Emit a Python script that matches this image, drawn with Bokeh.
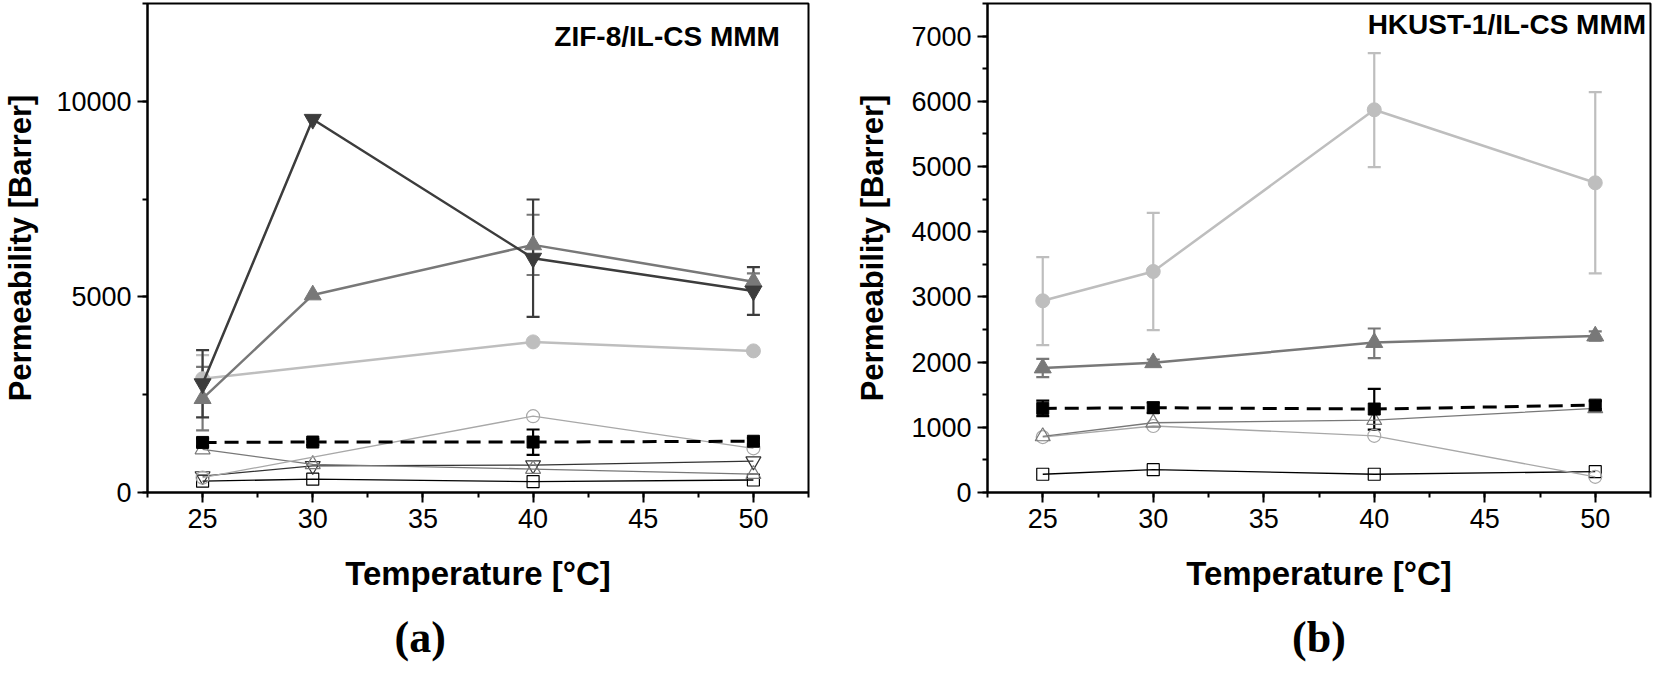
from bokeh.plotting import figure
from bokeh.models import (Whisker, TeeHead, ColumnDataSource, SingleIntervalTicker,
                          Title, Range1d, Label)
from bokeh.layouts import row
from bokeh.embed import file_html
from bokeh.resources import INLINE

# ---------------- data ----------------
temps = [25, 30, 40, 50]
temps_no30 = [25, 40, 50]

# Panel (a): ZIF-8/IL-CS MMM
a_dark_down = [2780, 9540, 5990, 5150]
a_dark_down_lo = [1920, None, 4490, 4540]
a_dark_down_hi = [3640, None, 7490, 5760]
a_gray_up = [2400, 5050, 6330, 5390]
a_gray_up_lo = [1590, None, 5560, 5180]
a_gray_up_hi = [3210, None, 7100, 5600]
a_light_circle = [2910, 3850, 3620]
a_light_circle_lo = [2310, None, None]
a_light_circle_hi = [3510, None, None]
a_open_circle = [380, 1950, 1130]
a_dash_square = [1280, 1290, 1290, 1310]
a_dash_square_lo = [1180, 1210, 960, 1230]
a_dash_square_hi = [1380, 1370, 1610, 1390]
a_open_up = [1100, 720, 600, 470]
a_open_down = [420, 680, 700, 800]
a_open_square = [290, 340, 280, 320]

# Panel (b): HKUST-1/IL-CS MMM
b_light_circle = [2940, 3390, 5870, 4750]
b_light_circle_lo = [2260, 2490, 4990, 3360]
b_light_circle_hi = [3610, 4290, 6740, 6140]
b_gray_up = [1910, 1990, 2300, 2400]
b_gray_up_lo = [1770, 1950, 2060, 2330]
b_gray_up_hi = [2050, 2040, 2515, 2470]
b_dash_square = [1290, 1300, 1280, 1340]
b_dash_square_lo = [1170, 1220, 965, 1280]
b_dash_square_hi = [1410, 1380, 1590, 1400]
b_open_up = [860, 1070, 1110, 1290]
b_open_circle = [850, 1020, 870, 240]
b_open_square = [280, 350, 280, 320]

x_label = "Temperature [°C]"
y_label = "Permeability [Barrer]"

SANS = "Liberation Sans"
SERIF = "Liberation Serif"

DARK = "#3c3c3c"
GRAY = "#787878"
LIGHT = "#bebebe"
OPENC = "#a8a8a8"


def add_series(p, xs, ys, marker, color, fill, lw, size, dash="solid", lo=None, hi=None):
    p.line(xs, ys, line_color=color, line_width=lw, line_dash=dash)
    if lo is not None:
        bx, bl, bh = [], [], []
        for x, l, h in zip(xs, lo, hi):
            if l is not None:
                bx.append(x); bl.append(l); bh.append(h)
        src = ColumnDataSource(dict(base=bx, lower=bl, upper=bh))
        w = Whisker(source=src, base="base", lower="lower", upper="upper",
                    line_color=color, line_width=2.2,
                    upper_head=TeeHead(size=13, line_color=color, line_width=2.2),
                    lower_head=TeeHead(size=13, line_color=color, line_width=2.2))
        p.add_layout(w)
    if fill:
        p.scatter(xs, ys, marker=marker, size=size, fill_color=color,
                  line_color=color, line_width=1)
    else:
        p.scatter(xs, ys, marker=marker, size=size, fill_color="white",
                  fill_alpha=0.0, line_color=color, line_width=1.2)


def style(p, ymax, yint, left_border, right_border, ylabel_standoff):
    p.x_range = Range1d(22.5, 52.5)
    p.y_range = Range1d(0, ymax)
    p.xgrid.visible = False
    p.ygrid.visible = False
    p.outline_line_color = "black"
    p.outline_line_width = 2
    p.min_border_left = left_border
    p.min_border_right = right_border
    p.min_border_top = 3
    p.min_border_bottom = 0
    p.background_fill_color = "white"
    p.border_fill_color = "white"
    p.xaxis.ticker = SingleIntervalTicker(interval=5, num_minor_ticks=2)
    p.yaxis.ticker = SingleIntervalTicker(interval=yint, num_minor_ticks=2)
    for ax in (p.xaxis[0], p.yaxis[0]):
        ax.axis_line_width = 2
        ax.axis_line_color = "black"
        ax.major_tick_in = 0
        ax.major_tick_out = 10
        ax.minor_tick_in = 0
        ax.minor_tick_out = 5
        ax.major_tick_line_width = 2
        ax.minor_tick_line_width = 2
        ax.major_label_text_font = SANS
        ax.major_label_text_font_size = "27px"
        ax.major_label_text_color = "black"
        ax.axis_label_text_font = SANS
        ax.axis_label_text_font_style = "bold"
        ax.axis_label_text_color = "black"
        ax.major_label_standoff = 6
    p.xaxis.axis_label = x_label
    p.yaxis.axis_label = y_label
    p.xaxis.axis_label_text_font_size = "33px"
    p.yaxis.axis_label_text_font_size = "31px"
    p.xaxis.axis_label_standoff = 24
    p.yaxis.axis_label_standoff = ylabel_standoff


# ---------------- panel a ----------------
pa = figure(width=818, height=678, output_backend="svg", toolbar_location=None)
style(pa, 12500, 5000, 144, 10, 15)
add_series(pa, temps, a_open_square, "square", "black", False, 1.3, 12)
add_series(pa, temps, a_open_down, "inverted_triangle", "#333333", False, 1.3, 15)
add_series(pa, temps, a_open_up, "triangle", GRAY, False, 1.3, 15)
add_series(pa, temps_no30, a_open_circle, "circle", OPENC, False, 1.3, 13)
add_series(pa, temps, a_dash_square, "square", "black", True, 3, 12, dash="14 8",
           lo=a_dash_square_lo, hi=a_dash_square_hi)
add_series(pa, temps_no30, a_light_circle, "circle", LIGHT, True, 2.5, 14,
           lo=a_light_circle_lo, hi=a_light_circle_hi)
add_series(pa, temps, a_gray_up, "triangle", GRAY, True, 2.5, 17,
           lo=a_gray_up_lo, hi=a_gray_up_hi)
add_series(pa, temps, a_dark_down, "inverted_triangle", DARK, True, 2.5, 17,
           lo=a_dark_down_lo, hi=a_dark_down_hi)
pa.add_layout(Label(x=51.2, y=11650, text="ZIF-8/IL-CS MMM", text_align="right",
                    text_baseline="middle", text_font=SANS, text_font_style="bold",
                    text_font_size="28px", text_color="black"))
pa.add_layout(Title(text="(a)", align="left", offset=247, standoff=33,
                    text_font=SERIF, text_font_style="bold", text_font_size="44px",
                    text_color="black"), "below")

# ---------------- panel b ----------------
pb = figure(width=836, height=678, output_backend="svg", toolbar_location=None)
style(pb, 7500, 1000, 169, 4, 18)
add_series(pb, temps, b_open_square, "square", "black", False, 1.3, 12)
add_series(pb, temps, b_open_circle, "circle", OPENC, False, 1.3, 13)
add_series(pb, temps, b_open_up, "triangle", GRAY, False, 1.3, 15)
add_series(pb, temps, b_dash_square, "square", "black", True, 3, 12, dash="14 8",
           lo=b_dash_square_lo, hi=b_dash_square_hi)
add_series(pb, temps, b_gray_up, "triangle", GRAY, True, 2.5, 17,
           lo=b_gray_up_lo, hi=b_gray_up_hi)
add_series(pb, temps, b_light_circle, "circle", LIGHT, True, 2.5, 14,
           lo=b_light_circle_lo, hi=b_light_circle_hi)
pb.add_layout(Label(x=52.3, y=7180, text="HKUST-1/IL-CS MMM", text_align="right",
                    text_baseline="middle", text_font=SANS, text_font_style="bold",
                    text_font_size="28px", text_color="black"))
pb.add_layout(Title(text="(b)", align="center", standoff=33,
                    text_font=SERIF, text_font_style="bold", text_font_size="44px",
                    text_color="black"), "below")

layout = row(pa, pb)
open("out.html", "w").write(file_html(layout, INLINE))
